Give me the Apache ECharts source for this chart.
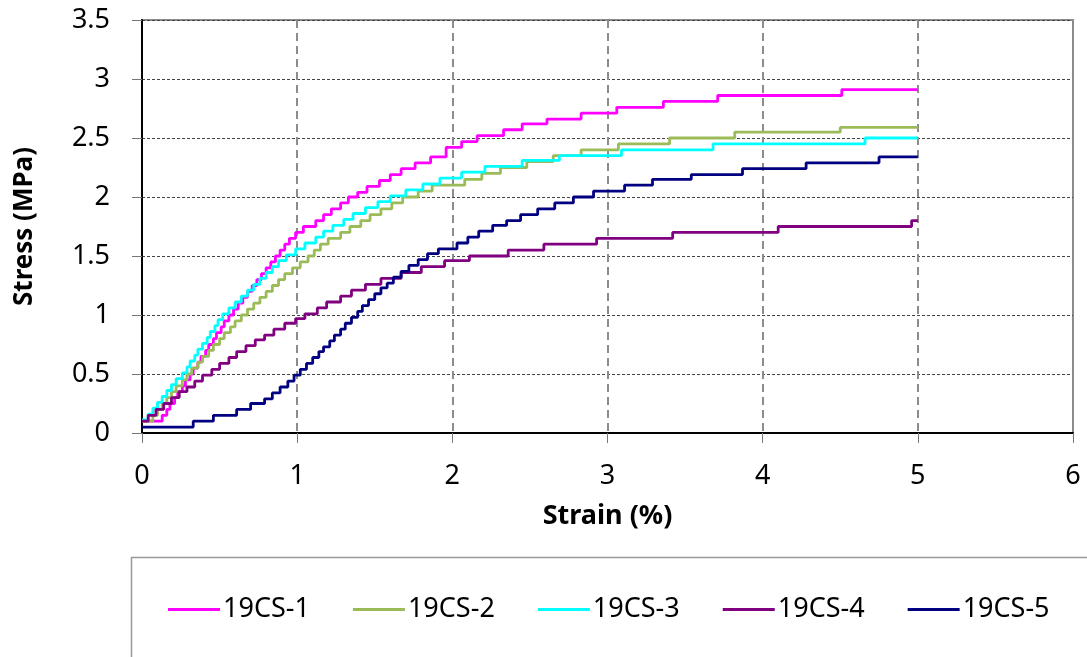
<!DOCTYPE html>
<html>
<head>
<meta charset="utf-8">
<style>
  html, body { margin: 0; padding: 0; background: #fff; }
  #chart { width: 1087px; height: 657px; }
</style>
<script src="https://cdn.jsdelivr.net/npm/echarts@6/dist/echarts.min.js"></script>
</head>
<body>
<div id="chart"></div>
<script>
// [strain %, stress MPa] — step points
const cs1 = [[0,0.10],[0.13,0.15],[0.16,0.20],[0.18,0.25],[0.21,0.30],[0.23,0.35],[0.26,0.40],[0.28,0.45],[0.31,0.50],[0.33,0.55],[0.36,0.60],[0.38,0.65],[0.41,0.70],[0.43,0.75],[0.46,0.80],[0.48,0.85],[0.51,0.90],[0.53,0.95],[0.56,1.00],[0.59,1.05],[0.62,1.10],[0.65,1.15],[0.68,1.20],[0.71,1.25],[0.74,1.30],[0.77,1.35],[0.80,1.40],[0.83,1.45],[0.86,1.50],[0.89,1.55],[0.92,1.60],[0.95,1.65],[0.99,1.70],[1.04,1.75],[1.12,1.80],[1.17,1.85],[1.22,1.90],[1.28,1.95],[1.33,2.00],[1.39,2.04],[1.45,2.09],[1.53,2.14],[1.60,2.19],[1.67,2.24],[1.76,2.29],[1.86,2.34],[1.96,2.42],[2.06,2.47],[2.16,2.52],[2.33,2.57],[2.45,2.62],[2.61,2.66],[2.83,2.71],[3.06,2.76],[3.36,2.81],[3.71,2.86],[4.51,2.91],[5.00,2.91]];
const cs2 = [[0,0.10],[0.07,0.15],[0.10,0.20],[0.13,0.25],[0.16,0.30],[0.19,0.35],[0.22,0.40],[0.26,0.45],[0.29,0.50],[0.32,0.55],[0.36,0.60],[0.39,0.65],[0.43,0.70],[0.46,0.75],[0.50,0.80],[0.53,0.85],[0.57,0.90],[0.60,0.95],[0.64,1.00],[0.68,1.05],[0.72,1.10],[0.76,1.15],[0.80,1.20],[0.84,1.25],[0.88,1.30],[0.92,1.35],[0.97,1.40],[1.02,1.45],[1.07,1.50],[1.11,1.55],[1.15,1.60],[1.20,1.65],[1.28,1.70],[1.34,1.75],[1.41,1.80],[1.47,1.85],[1.54,1.90],[1.61,1.95],[1.68,2.00],[1.78,2.05],[1.87,2.10],[2.08,2.15],[2.19,2.20],[2.31,2.25],[2.48,2.30],[2.65,2.35],[2.83,2.40],[3.07,2.45],[3.40,2.50],[3.82,2.55],[4.50,2.59],[5.00,2.59]];
const cs3 = [[0,0.11],[0.04,0.16],[0.07,0.21],[0.10,0.26],[0.13,0.31],[0.16,0.36],[0.19,0.41],[0.22,0.46],[0.26,0.51],[0.29,0.56],[0.31,0.61],[0.34,0.66],[0.36,0.71],[0.39,0.76],[0.42,0.81],[0.44,0.86],[0.47,0.91],[0.49,0.96],[0.52,1.01],[0.56,1.06],[0.60,1.11],[0.64,1.16],[0.68,1.21],[0.72,1.26],[0.76,1.31],[0.80,1.36],[0.84,1.41],[0.88,1.46],[0.93,1.51],[0.99,1.56],[1.05,1.61],[1.12,1.66],[1.17,1.71],[1.23,1.76],[1.30,1.81],[1.36,1.86],[1.44,1.91],[1.52,1.96],[1.60,2.01],[1.70,2.06],[1.81,2.11],[1.92,2.16],[2.06,2.21],[2.21,2.26],[2.45,2.31],[2.69,2.35],[3.09,2.40],[3.68,2.45],[4.66,2.50],[5.00,2.50]];
const cs4 = [[0,0.10],[0.04,0.15],[0.09,0.20],[0.14,0.25],[0.19,0.30],[0.24,0.35],[0.29,0.39],[0.34,0.44],[0.39,0.49],[0.45,0.54],[0.50,0.59],[0.56,0.64],[0.61,0.69],[0.67,0.74],[0.73,0.79],[0.79,0.83],[0.85,0.88],[0.92,0.93],[0.99,0.97],[1.05,1.01],[1.13,1.06],[1.19,1.11],[1.28,1.16],[1.35,1.21],[1.44,1.26],[1.54,1.31],[1.67,1.36],[1.80,1.41],[1.95,1.46],[2.11,1.50],[2.36,1.55],[2.59,1.60],[2.93,1.65],[3.42,1.70],[4.10,1.75],[4.96,1.80],[5.00,1.80]];
const cs5 = [[0,0.05],[0.33,0.10],[0.46,0.15],[0.61,0.20],[0.70,0.25],[0.79,0.29],[0.84,0.34],[0.89,0.39],[0.94,0.44],[0.98,0.49],[1.02,0.54],[1.06,0.59],[1.10,0.64],[1.14,0.69],[1.17,0.73],[1.21,0.78],[1.24,0.83],[1.28,0.88],[1.31,0.93],[1.35,0.98],[1.39,1.03],[1.42,1.08],[1.46,1.13],[1.50,1.18],[1.54,1.23],[1.58,1.27],[1.62,1.32],[1.67,1.37],[1.72,1.42],[1.78,1.47],[1.84,1.52],[1.91,1.56],[2.03,1.61],[2.10,1.66],[2.17,1.71],[2.26,1.76],[2.35,1.80],[2.44,1.85],[2.55,1.90],[2.66,1.95],[2.78,2.00],[2.91,2.05],[3.11,2.10],[3.29,2.15],[3.54,2.19],[3.87,2.24],[4.28,2.29],[4.75,2.34],[5.00,2.34]];

const seriesNames = ['19CS-1', '19CS-2', '19CS-3', '19CS-4', '19CS-5'];
const seriesColors = ['#ff00ff', '#9bbb59', '#00ffff', '#800080', '#000080'];
const seriesData = [cs1, cs2, cs3, cs4, cs5];

const font = '"Noto Sans", "Open Sans", sans-serif';

const chart = echarts.init(document.getElementById('chart'));

const series = seriesNames.map((name, i) => ({
  name,
  type: 'line',
  step: 'end',
  data: seriesData[i],
  showSymbol: false,
  symbol: 'none',
  itemStyle: { color: seriesColors[i] },
  lineStyle: { width: 2.8, color: seriesColors[i] },
  animation: false
}));

chart.setOption({
  animation: false,
  grid: {
    left: 142, right: 14, top: 20, bottom: 224,
    outerBoundsMode: 'none',
    containLabel: false,
    show: true, borderColor: '#8c8c8c', borderWidth: 2
  },
  xAxis: {
    type: 'value',
    min: 0, max: 6, interval: 1,
    name: 'Strain (%)',
    nameLocation: 'middle',
    nameGap: 70,
    nameTextStyle: { fontFamily: font, fontWeight: 'bold', fontSize: 27, color: '#000' },
    axisLine: { show: true, onZero: false, lineStyle: { color: '#000', width: 2 } },
    axisTick: { show: true, length: 10, lineStyle: { color: '#777', width: 1 } },
    axisLabel: { fontFamily: font, fontSize: 27, color: '#000', margin: 30 },
    splitLine: { show: true, lineStyle: { color: '#8c8c8c', width: 2, type: [8, 5] } }
  },
  yAxis: {
    type: 'value',
    min: 0, max: 3.5, interval: 0.5,
    name: 'Stress (MPa)',
    nameLocation: 'middle',
    nameGap: 104,
    nameTextStyle: { fontFamily: font, fontWeight: 'bold', fontSize: 26, color: '#000' },
    axisLine: { show: true, lineStyle: { color: '#000', width: 2 } },
    axisTick: { show: true, length: 10, lineStyle: { color: '#777', width: 1 } },
    axisLabel: { fontFamily: font, fontSize: 27, color: '#000', margin: 32 },
    splitLine: { show: true, lineStyle: { color: '#444', width: 1, type: [3, 2] } }
  },
  legend: {
    left: 168,
    top: 596,
    padding: 0,
    itemWidth: 52,
    itemHeight: 3,
    itemGap: 43,
    icon: 'rect',
    textStyle: { fontFamily: font, fontSize: 27, color: '#000', padding: [0, 0, 0, -2] },
    data: seriesNames
  },
  graphic: [{
    type: 'rect',
    shape: { x: 131.5, y: 557.5, width: 1000, height: 200 },
    style: { fill: 'none', stroke: '#999', lineWidth: 1.5 },
    silent: true
  }],
  series
});
</script>
</body>
</html>
